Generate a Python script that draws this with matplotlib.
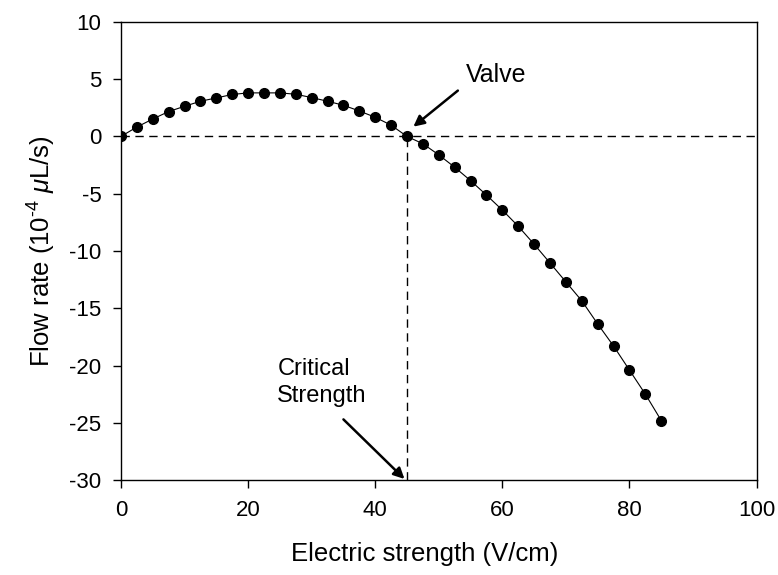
import numpy as np
import matplotlib
matplotlib.use("Agg")
import matplotlib.pyplot as plt

plt.rcParams["font.family"] = ["Liberation Sans", "DejaVu Sans"]
plt.rcParams["mathtext.fontset"] = "custom"
plt.rcParams["mathtext.rm"] = "Liberation Sans"
plt.rcParams["mathtext.it"] = "Liberation Sans:italic"
plt.rcParams["axes.unicode_minus"] = False

# Electric strength (V/cm) and measured flow rate (1e-4 uL/s)
strength = np.arange(0, 85.1, 2.5)
flow = [0.0, 0.82, 1.52, 2.17, 2.63, 3.07, 3.36, 3.66, 3.8, 3.8,
        3.8, 3.68, 3.39, 3.07, 2.72, 2.22, 1.67, 0.98, 0.0,
        -0.64, -1.61, -2.69, -3.86, -5.12, -6.43, -7.84, -9.41,
        -11.05, -12.7, -14.35, -16.37, -18.3, -20.4, -22.5, -24.8]
critical = 45

fig = plt.figure(figsize=(7.78, 5.75), dpi=100)
ax = fig.add_axes([0.1555, 0.165, 0.817, 0.797])

ax.axhline(0, color="black", lw=1, ls=(0, (6, 4)), zorder=1)
ax.plot([critical, critical], [-30, 0], color="black", lw=1, ls=(0, (6, 4)), zorder=1)
ax.plot(strength, flow, color="black", lw=0.8, marker="o", ms=7, zorder=3)

ax.set_xlim(0, 100)
ax.set_ylim(-30, 10)
ax.set_xticks(range(0, 101, 20))
ax.set_yticks(range(-30, 11, 5))
ax.tick_params(direction="out", length=6, width=1, labelsize=16, pad=8,
               top=False, right=False)
for s in ax.spines.values():
    s.set_linewidth(1)

ax.set_xlabel("Electric strength (V/cm)", fontsize=18.5)
ax.xaxis.set_label_coords(0.478, -0.135)
ax.set_ylabel(r"Flow rate (10$^{\text{-4}}$ $\mathit{\mu}$L/s)", fontsize=18.5, labelpad=8)

# annotations
ax.text(54.3, 5.4, "Valve", fontsize=18, va="center")
ax.annotate("", xy=(46, 0.85), xytext=(53, 4.0),
            arrowprops=dict(arrowstyle="-|>", color="black", lw=1.8,
                            mutation_scale=16, shrinkA=0, shrinkB=0))
ax.text(24.6, -21.5, "Critical\nStrength", fontsize=17, ha="left", va="center",
        linespacing=1.3)
ax.annotate("", xy=(44.6, -29.9), xytext=(35.0, -24.7),
            arrowprops=dict(arrowstyle="-|>", color="black", lw=1.8,
                            mutation_scale=16, shrinkA=0, shrinkB=0))

fig.savefig("out.png", dpi=100)
